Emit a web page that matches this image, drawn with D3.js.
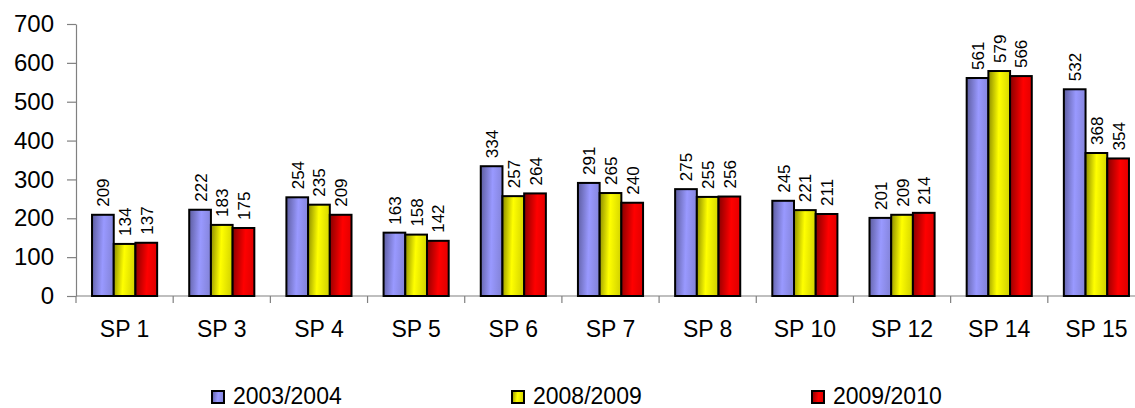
<!DOCTYPE html>
<html><head><meta charset="utf-8">
<script src="https://cdn.jsdelivr.net/npm/d3@7"></script>
<style>html,body{margin:0;padding:0;background:#fff;}svg{display:block;font-family:Arial,"Liberation Sans",sans-serif;}</style>
</head><body>
<svg id="chart" width="1135" height="408"></svg>
<script>
const categories = ["SP 1","SP 3","SP 4","SP 5","SP 6","SP 7","SP 8","SP 10","SP 12","SP 14","SP 15"];
const seriesNames = ["2003/2004","2008/2009","2009/2010"];
const values2003 = [209,222,254,163,334,291,275,245,201,561,532];
const values2008 = [134,183,235,158,257,265,255,221,209,579,368];
const values2009 = [137,175,209,142,264,240,256,211,214,566,354];
const yTicks = [0,100,200,300,400,500,600,700];

const seriesValues = [values2003, values2008, values2009];
const gradStops = [
  [["0%","#5c5c9e"],["55%","#9999ff"],["100%","#8585dc"]],
  [["0%","#8a8a00"],["50%","#ffff00"],["100%","#d6d600"]],
  [["0%","#850000"],["60%","#ff0000"],["100%","#e20000"]]
];

const svg = d3.select("#chart");
const defs = svg.append("defs");
gradStops.forEach((st,i)=>{
  const g = defs.append("linearGradient").attr("id","g"+i)
    .attr("x1","0").attr("y1","0").attr("x2","1").attr("y2","0.12");
  st.forEach(s=>g.append("stop").attr("offset",s[0]).attr("stop-color",s[1]));
});

const mLeft = 76, mRight = 1145, mTop = 24, mBottom = 296;
const x = d3.scaleBand().domain(categories).range([mLeft,mRight]);
const bw = x.bandwidth();
const x1 = d3.scaleBand().domain(seriesNames).range([bw*0.165, bw*0.835]);
const y = d3.scaleLinear().domain([0,700]).range([mBottom,mTop]);

// y axis
const yAxis = svg.append("g").attr("transform",`translate(${mLeft},0)`)
  .call(d3.axisLeft(y).tickValues(yTicks).tickSize(9).tickPadding(13).tickSizeOuter(0));
yAxis.select(".domain").attr("stroke","#808080").attr("stroke-width",1.2);
yAxis.selectAll(".tick line").attr("stroke","#808080").attr("stroke-width",1.2);
yAxis.selectAll(".tick text").attr("font-size",24).attr("fill","#000")
  .attr("font-family","Arial,'Liberation Sans',sans-serif");

// x axis with ticks at band boundaries
const xg = svg.append("g");
xg.append("line").attr("x1",mLeft).attr("x2",mRight).attr("y1",mBottom).attr("y2",mBottom)
  .attr("stroke","#808080").attr("stroke-width",1.2);
categories.forEach(c=>{
  xg.append("line").attr("x1",x(c)).attr("x2",x(c)).attr("y1",mBottom).attr("y2",mBottom+7)
    .attr("stroke","#808080").attr("stroke-width",1.2);
});
xg.selectAll("text.cat").data(categories).join("text").attr("class","cat")
  .attr("x",d=>x(d)+bw/2).attr("y",337).attr("text-anchor","middle")
  .attr("font-size",23).attr("fill","#000").text(d=>d);

// bars
const groups = svg.append("g").selectAll("g").data(categories).join("g")
  .attr("transform",d=>`translate(${x(d)},0)`);
seriesNames.forEach((s,si)=>{
  groups.append("rect")
    .attr("x",x1(s)).attr("width",x1.bandwidth())
    .attr("y",(d)=>y(seriesValues[si][categories.indexOf(d)]))
    .attr("height",(d)=>mBottom-y(seriesValues[si][categories.indexOf(d)]))
    .attr("fill",`url(#g${si})`).attr("stroke","#000").attr("stroke-width",2);
});
seriesNames.forEach((s,si)=>{
  groups.append("text")
    .attr("transform",d=>{
      const v = seriesValues[si][categories.indexOf(d)];
      return `translate(${x1(s)+x1.bandwidth()/2+1},${y(v)-8}) rotate(-90)`;
    })
    .attr("dominant-baseline","central").attr("text-anchor","start")
    .attr("font-size",17).attr("fill","#000")
    .text(d=>seriesValues[si][categories.indexOf(d)]);
});

// legend
const legend = svg.append("g");
seriesNames.forEach((s,i)=>{
  const lx = 212 + i*300;
  legend.append("rect").attr("x",lx).attr("y",391).attr("width",12).attr("height",12)
    .attr("fill",`url(#g${i})`).attr("stroke","#000").attr("stroke-width",2);
  legend.append("text").attr("x",lx+21).attr("y",404).attr("font-size",23).attr("fill","#000").text(s);
});
</script>
</body></html>
